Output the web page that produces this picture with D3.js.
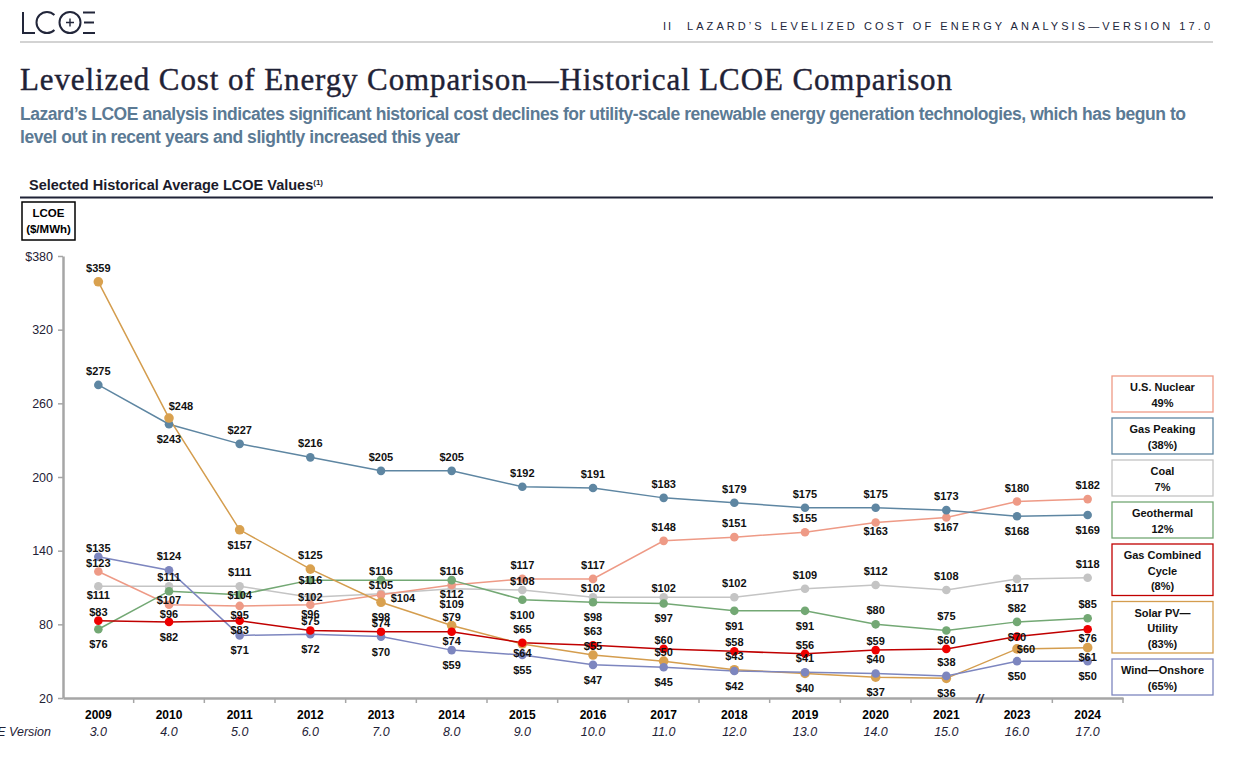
<!DOCTYPE html>
<html>
<head>
<meta charset="utf-8">
<script src="https://cdn.jsdelivr.net/npm/d3@7"></script>
<style>
  body { margin: 0; background: #fff; }
  svg { font-family: "Liberation Sans", Arial, sans-serif; }
</style>
</head>
<body>
<div id="container"></div>
<script>
/* CONSTANTS AND GLOBALS */
const width = 1238;
const height = 771;

/* DATA */
const years = ["2009","2010","2011","2012","2013","2014","2015","2016","2017","2018","2019","2020","2021","2023","2024"];
const versions = ["3.0","4.0","5.0","6.0","7.0","8.0","9.0","10.0","11.0","12.0","13.0","14.0","15.0","16.0","17.0"];
const yTicks = [20, 80, 140, 200, 260, 320, 380];

const nuclear    = [123, 96, 95, 96, 104, 112, 117, 117, 148, 151, 155, 163, 167, 180, 182];
const gasPeaking = [275, 243, 227, 216, 205, 205, 192, 191, 183, 179, 175, 175, 173, 168, 169];
const coal       = [111, 111, 111, 102, 105, 109, 108, 102, 102, 102, 109, 112, 108, 117, 118];
const geothermal = [76, 107, 104, 116, 116, 116, 100, 98, 97, 91, 91, 80, 75, 82, 85];
const gasCC      = [83, 82, 83, 75, 74, 74, 65, 63, 60, 58, 56, 59, 60, 70, 76];
const solarPV    = [359, 248, 157, 125, 98, 79, 64, 55, 50, 43, 40, 37, 36, 60, 61];
const windOn     = [135, 124, 71, 72, 70, 59, 55, 47, 45, 42, 41, 40, 38, 50, 50];

const legendLines = [
  ["U.S. Nuclear", "49%"],
  ["Gas Peaking", "(38%)"],
  ["Coal", "7%"],
  ["Geothermal", "12%"],
  ["Gas Combined", "Cycle", "(8%)"],
  ["Solar PV\u2014", "Utility", "(83%)"],
  ["Wind\u2014Onshore", "(65%)"]
];

/* label side per point: a/A above, b/B below, C centred, r/R/s to the right */
const labelSide = {
  nuclear:    ["A","B","B","B","r","B","a","a","a","a","a","B","B","a","a"],
  gasPeaking: ["a","b","a","a","a","a","a","a","a","a","a","a","a","b","b"],
  coal:       ["B","A","a","C","A","b","A","A","A","a","a","a","a","B","a"],
  geothermal: ["b","B","C","C","A","A","b","b","b","b","b","a","a","a","a"],
  gasCC:      ["A","b","B","A","A","B","a","a","A","A","A","A","A","C","B"],
  solarPV:    ["a","R","b","a","b","A","B","A","A","a","b","b","b","s","B"],
  windOn:     ["A","a","b","b","b","b","b","b","b","b","a","a","a","b","b"]
};
const offsets = {
  a: [0, -14], A: [0, -9], C: [0, 0], B: [0, 9], b: [0, 15],
  r: [22, 3], R: [12, -12], s: [9, 0]
};

// drawing order (back to front), legend order is different
const series = [
  { key: "coal",       values: coal,       line: "#C4C4C4", dot: "#C4C4C4" },
  { key: "nuclear",    values: nuclear,    line: "#EE9A86", dot: "#EE9A86" },
  { key: "gasPeaking", values: gasPeaking, line: "#5E86A2", dot: "#5E86A2" },
  { key: "geothermal", values: geothermal, line: "#73A874", dot: "#73A874" },
  { key: "solarPV",    values: solarPV,    line: "#D49D4E", dot: "#D9A14F" },
  { key: "windOn",     values: windOn,     line: "#7D86BF", dot: "#7D86BF" },
  { key: "gasCC",      values: gasCC,      line: "#C00000", dot: "#EE0000" }
];
const legendColors = ["#EE9A86","#5E86A2","#C4C4C4","#73A874","#C00000","#D49D4E","#7D86BF"];

const svg = d3.select("#container")
  .append("svg")
  .attr("width", width)
  .attr("height", height)

/* HEADER */
const logo = svg.append("g")
  .attr("fill", "none")
  .attr("stroke", "#22263A")
  .attr("stroke-width", 2)
logo.append("path").attr("d", "M23,12 V33 H35")
logo.append("path").attr("d", d3.arc()({ innerRadius: 10.5, outerRadius: 10.5, startAngle: Math.PI * 0.75, endAngle: Math.PI * 2.25 }))
  .attr("transform", "translate(47,22.5)")
logo.append("circle").attr("cx", 70).attr("cy", 22.5).attr("r", 10.5)
logo.append("path").attr("d", "M66,22.5 H74 M70,18.5 V26.5").attr("stroke-width", 1.4)
logo.append("path").attr("d", "M83,12.5 H95 M84,22.5 H94 M83,33 H95")

svg.append("line")
  .attr("x1", 20).attr("x2", 1213).attr("y1", 42).attr("y2", 42)
  .attr("stroke", "#C4C4C4").attr("stroke-width", 1.3)

svg.append("text")
  .attr("x", 663).attr("y", 30)
  .style("font-size", "11px")
  .style("letter-spacing", "2px")
  .attr("fill", "#22263A")
  .text("II")
svg.append("text")
  .attr("x", 687).attr("y", 30)
  .attr("textLength", 523)
  .style("font-size", "11px")
  .attr("fill", "#22263A")
  .text("LAZARD\u2019S LEVELIZED COST OF ENERGY ANALYSIS\u2014VERSION 17.0")

svg.append("text")
  .attr("x", 20).attr("y", 90)
  .style("font-family", "'Liberation Serif', 'DejaVu Serif', serif")
  .style("font-size", "31px")
  .attr("textLength", 932)
  .attr("fill", "#1F2236")
  .attr("stroke", "#1F2236")
  .attr("stroke-width", 0.4)
  .text("Levelized Cost of Energy Comparison\u2014Historical LCOE Comparison")

const subtitle = svg.append("text")
  .style("font-family", "'Liberation Sans Narrow', 'Liberation Sans', Arial, sans-serif")
  .style("font-size", "17.5px")
  .style("font-weight", "bold")
  .attr("fill", "#5B7A94")
subtitle.append("tspan").attr("x", 20).attr("y", 120).attr("textLength", 1166)
  .text("Lazard\u2019s LCOE analysis indicates significant historical cost declines for utility-scale renewable energy generation technologies, which has begun to")
subtitle.append("tspan").attr("x", 20).attr("y", 143).attr("textLength", 440)
  .text("level out in recent years and slightly increased this year")

const section = svg.append("text")
  .attr("x", 29).attr("y", 190)
  .style("font-size", "14.5px")
  .style("font-weight", "bold")
  .attr("fill", "#1B1B2B")
section.append("tspan").text("Selected Historical Average LCOE Values")
section.append("tspan").attr("dy", -5).style("font-size", "8px").text("(1)")

svg.append("line")
  .attr("x1", 20).attr("x2", 1213).attr("y1", 197.5).attr("y2", 197.5)
  .attr("stroke", "#1F2236").attr("stroke-width", 2)

svg.append("rect")
  .attr("x", 22).attr("y", 202).attr("width", 53).attr("height", 38)
  .attr("fill", "none").attr("stroke", "#000").attr("stroke-width", 1.5)
svg.append("text").attr("x", 48.5).attr("y", 217).attr("text-anchor", "middle")
  .style("font-size", "11.5px").style("font-weight", "bold").text("LCOE")
svg.append("text").attr("x", 48.5).attr("y", 233).attr("text-anchor", "middle")
  .style("font-size", "11.5px").style("font-weight", "bold").text("($/MWh)")

/* SCALES */
const xScale = d3.scaleBand()
  .domain(years)
  .range([63, 1123])
  .padding(0)

const yScale = d3.scaleLinear()
  .domain([20, 380])
  .range([698, 256])

const cx = d => xScale(d) + xScale.bandwidth() / 2

/* AXES */
const yAxis = d3.axisLeft(yScale)
  .tickValues(yTicks)
  .tickFormat(d => d === 380 ? "$380" : d)
  .tickSize(5)
  .tickSizeOuter(0)
  .tickPadding(5)
const yG = svg.append("g")
  .attr("transform", "translate(63,0)")
  .call(yAxis)
yG.select(".domain").attr("stroke", "#A6A6A6").attr("stroke-width", 2.5)
yG.selectAll(".tick line").attr("stroke", "#A6A6A6").attr("stroke-width", 1.5)
yG.selectAll(".tick text")
  .style("font-size", "12.5px")
  .style("font-family", "'Liberation Sans', Arial, sans-serif")
  .attr("fill", "#1F2236")

const xAxis = d3.axisBottom(xScale)
  .tickSize(0)
  .tickPadding(12)
const xG = svg.append("g")
  .attr("transform", "translate(0,698)")
  .call(xAxis)
xG.select(".domain").attr("stroke", "#A6A6A6").attr("stroke-width", 2.5)
xG.selectAll(".tick text")
  .style("font-size", "12px")
  .style("font-weight", "bold")
  .style("font-family", "'Liberation Sans', Arial, sans-serif")
  .attr("fill", "#000")
xG.selectAll(".tick")
  .append("text")
  .attr("y", 38)
  .attr("fill", "#1F2236")
  .style("font-size", "12.5px")
  .style("font-style", "italic")
  .style("font-family", "'Liberation Sans', Arial, sans-serif")
  .text((d, i) => versions[i])

// boundary ticks between categories
xG.selectAll(".edge")
  .data(years.slice(1).concat(["end"]))
  .join("line")
  .attr("class", "edge")
  .attr("x1", d => d === "end" ? 1123 : xScale(d))
  .attr("x2", d => d === "end" ? 1123 : xScale(d))
  .attr("y1", 0).attr("y2", 5)
  .attr("stroke", "#A6A6A6").attr("stroke-width", 1.5)

svg.append("text")
  .attr("x", 51).attr("y", 736)
  .attr("text-anchor", "end")
  .attr("fill", "#1F2236")
  .style("font-size", "12.5px")
  .style("font-style", "italic")
  .text("LCOE Version")

// axis break between 2021 and 2023
svg.append("text")
  .attr("x", xScale("2023") - 2).attr("y", 703)
  .attr("text-anchor", "middle")
  .style("font-size", "13px")
  .style("font-style", "italic")
  .style("font-weight", "bold")
  .attr("fill", "#1F2236")
  .text("//")

/* LINES */
const line = d3.line()
  .x((d, i) => cx(years[i]))
  .y(d => yScale(d))

svg.selectAll(".series")
  .data(series)
  .join("path")
  .attr("class", "series")
  .attr("d", s => line(s.values))
  .attr("fill", "none")
  .attr("stroke", s => s.line)
  .attr("stroke-width", 1.5)

/* DOTS */
series.forEach(s => {
  svg.selectAll(".dot-" + s.key)
    .data(s.values)
    .join("circle")
    .attr("class", "dot-" + s.key)
    .attr("cx", (d, i) => cx(years[i]))
    .attr("cy", d => yScale(d))
    .attr("r", s.key === "solarPV" ? 4.8 : 4.3)
    .attr("fill", s.dot)
})

/* LABELS */
series.forEach(s => {
  const sides = labelSide[s.key]
  svg.selectAll(".lab-" + s.key)
    .data(s.values)
    .join("text")
    .attr("class", "lab-" + s.key)
    .attr("x", (d, i) => cx(years[i]) + offsets[sides[i]][0])
    .attr("y", (d, i) => yScale(d) + offsets[sides[i]][1])
    .attr("text-anchor", "middle")
    .attr("dominant-baseline", "central")
    .style("font-size", "11px")
    .style("font-weight", "bold")
    .attr("fill", "#111")
    .text(d => "$" + d)
})

/* LEGEND */
let ly = 376
const legend = svg.append("g")
legendLines.forEach((lines, i) => {
  const h = lines.length * 15.5 + 5
  legend.append("rect")
    .attr("x", 1112).attr("y", ly)
    .attr("width", 101).attr("height", h)
    .attr("fill", "#fff")
    .attr("stroke", legendColors[i])
    .attr("stroke-width", 1.3)
  lines.forEach((t, j) => {
    legend.append("text")
      .attr("x", 1162.5).attr("y", ly + 15 + j * 15.5)
      .attr("text-anchor", "middle")
      .style("font-size", "11px")
      .style("font-weight", "bold")
      .attr("fill", "#111")
      .text(t)
  })
  ly += h + 6
})
</script>
</body>
</html>
